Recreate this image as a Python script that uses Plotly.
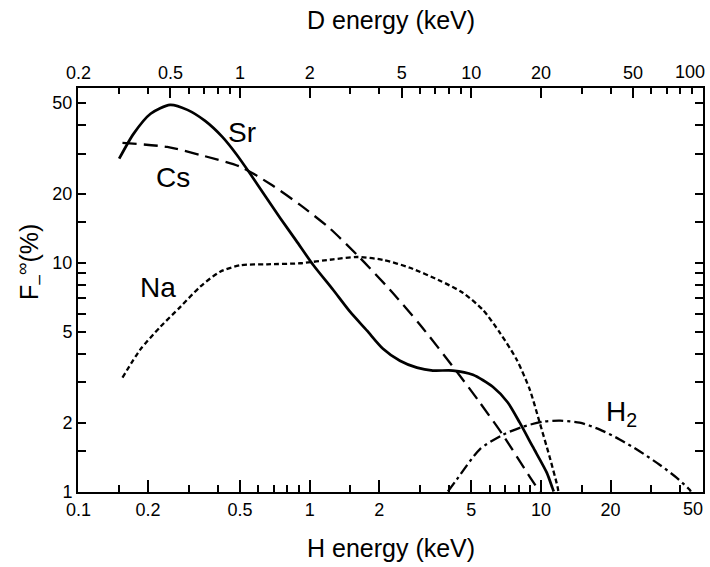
import plotly.graph_objects as go
import numpy as np

# H energy (keV) and F-infinity (%)
sr_x = [0.150, 0.173, 0.205, 0.249, 0.296, 0.353, 0.419, 0.481, 0.553, 0.642, 0.745, 0.874, 1.034,
        1.262, 1.494, 1.770, 2.075, 2.456, 2.909, 3.41, 4.16, 5.08, 6.19, 7.19, 8.10, 9.22, 10.6,
        11.2, 11.36]
sr_y = [28.5, 36.6, 44.8, 49.0, 46.6, 41.7, 35.5, 29.9, 24.5, 19.6, 15.7, 12.5, 9.8,
        7.62, 6.11, 5.05, 4.21, 3.73, 3.48, 3.38, 3.38, 3.24, 2.87, 2.45, 2.00, 1.57, 1.21,
        1.04, 1.0]

cs_x = [0.155, 0.242, 0.336, 0.501, 0.675, 0.909, 1.225, 1.651, 2.224, 3.00, 4.33, 5.44,
        6.84, 8.95, 9.88]
cs_y = [33.4, 32.1, 29.6, 26.3, 22.1, 17.9, 14.1, 10.5, 7.62, 5.36, 3.34, 2.45,
        1.77, 1.16, 1.0]

na_x = [0.155, 0.185, 0.226, 0.276, 0.336, 0.410, 0.501, 0.655, 0.909, 1.262, 1.602, 2.075,
        2.714, 3.66, 4.59, 5.61, 6.64, 7.86, 8.95, 9.88, 10.9, 11.8, 11.9]
na_y = [3.15, 4.17, 5.25, 6.42, 7.86, 9.14, 9.75, 9.85, 9.95, 10.35, 10.6, 10.3,
        9.51, 8.35, 7.40, 6.23, 4.95, 3.77, 2.79, 2.00, 1.42, 1.05, 1.0]

h2_x = [3.96, 4.33, 5.44, 6.84, 8.35, 10.2, 12.1, 14.7, 17.9, 21.9, 26.7, 32.6, 38.6, 43.9, 44.5]
h2_y = [1.0, 1.13, 1.53, 1.77, 1.92, 2.02, 2.04, 2.00, 1.87, 1.69, 1.50, 1.31, 1.15, 1.02, 1.0]

h_ticks = [0.1, 0.2, 0.5, 1, 2, 5, 10, 20, 50]
h_ticktext = ["0.1", "0.2", "0.5", "1", "2", "5", "10", "20", ""]
h_edge_label = ("50", 50)
h_minor = [0.15, 0.3, 0.4, 0.6, 0.7, 0.8, 0.9, 1.5, 3, 4, 6, 7, 8, 9, 15, 30, 40]
d_ticks = [0.2, 0.5, 1, 2, 5, 10, 20, 50, 100]
d_ticktext = ["0.2", "0.5", "1", "2", "5", "10", "20", "50", ""]
d_edge_label = ("100", 50)  # D = 100 keV sits above H = 50 keV
d_minor = [0.3, 0.4, 0.6, 0.7, 0.8, 0.9, 3, 4, 6, 7, 8, 9, 30, 40, 60, 70, 80, 90]
y_ticks = [1, 2, 5, 10, 20, 50]
y_ticktext = ["1", "2", "5", "10", "20", "50"]
y_minor = [1.5, 3, 4, 6, 7, 8, 9, 15, 30, 40]

labels = [("Sr", 0.511, 37.0), ("Cs", 0.257, 23.5), ("Na", 0.2215, 7.8), ("H<sub>2</sub>", 22.3, 2.2)]

FONT = "Liberation Sans"
fig = go.Figure()
fig.add_trace(go.Scatter(x=sr_x, y=sr_y, mode="lines", line=dict(color="black", width=2.7, shape="spline", smoothing=0.7)))
fig.add_trace(go.Scatter(x=cs_x, y=cs_y, mode="lines", line=dict(color="black", width=2.3, dash="14px,7px", shape="spline", smoothing=0.7)))
fig.add_trace(go.Scatter(x=na_x, y=na_y, mode="lines", line=dict(color="black", width=2.3, dash="5px,3px", shape="spline", smoothing=0.7)))
fig.add_trace(go.Scatter(x=h2_x, y=h2_y, mode="lines", line=dict(color="black", width=2.3, dash="11px,4px,3px,4px", shape="spline", smoothing=0.7)))
fig.add_trace(go.Scatter(x=[0.2, 100], y=[None, None], mode="lines", xaxis="x2", yaxis="y", showlegend=False, hoverinfo="skip"))

for t, lx, ly in labels:
    fig.add_annotation(x=np.log10(lx), y=np.log10(ly), text=t, showarrow=False,
                       xanchor="center", yanchor="middle",
                       font=dict(family=FONT, size=28, color="black"))

# edge tick labels, kept inside the picture like in the reference
fig.add_annotation(x=np.log10(h_edge_label[1]), xref="x", yref="paper", y=-0.042, text=h_edge_label[0],
                   showarrow=False, xanchor="right", yanchor="middle", xshift=2,
                   font=dict(family=FONT, size=18, color="black"))
fig.add_annotation(x=np.log10(d_edge_label[1]), xref="x", yref="paper", y=1.04, text=d_edge_label[0],
                   showarrow=False, xanchor="right", yanchor="middle", xshift=4,
                   font=dict(family=FONT, size=18, color="black"))

fig.add_annotation(xref="paper", yref="paper", x=0.5008, y=1.168, text="D energy (keV)", showarrow=False,
                   xanchor="center", yanchor="middle", font=dict(family=FONT, size=25, color="black"))
fig.add_annotation(xref="paper", yref="paper", x=0.5008, y=-0.1386, text="H energy (keV)", showarrow=False,
                   xanchor="center", yanchor="middle", font=dict(family=FONT, size=25, color="black"))
fig.add_annotation(xref="paper", yref="paper", x=-0.0768, y=0.569, text="F<sub>–</sub><sup>∞</sup>(%)", showarrow=False,
                   xanchor="center", yanchor="middle", textangle=-90,
                   font=dict(family=FONT, size=25, color="black"))

axis_common = dict(type="log", showgrid=False, zeroline=False, showline=True, linecolor="black", linewidth=2,
                   ticks="inside", tickcolor="black", tickwidth=1.5, ticklabeloverflow="allow", automargin=False,
                   tickfont=dict(family=FONT, size=18, color="black"))

eps = 0.002
fig.update_layout(
    width=710, height=567, margin=dict(l=78, r=7, t=88, b=75, autoexpand=False),
    paper_bgcolor="white", plot_bgcolor="white", showlegend=False,
    xaxis=dict(**axis_common, range=[-1 - eps, np.log10(50) + eps], tickvals=h_ticks, ticktext=h_ticktext, ticklen=12,
               mirror=True,
               minor=dict(tickvals=h_minor, ticks="inside", ticklen=7, tickcolor="black", tickwidth=1.5, showgrid=False)),
    xaxis2=dict(**axis_common, range=[np.log10(0.2) - eps, 2 + eps], overlaying="x", side="top", anchor="y",
                tickvals=d_ticks, ticktext=d_ticktext, ticklen=10,
                minor=dict(tickvals=d_minor, ticks="inside", ticklen=6, tickcolor="black", tickwidth=1.5, showgrid=False)),
    yaxis=dict(**axis_common, range=[0 - eps, 1.764], tickvals=y_ticks, ticktext=y_ticktext, ticklen=8, mirror="allticks",
               minor=dict(tickvals=y_minor, ticks="inside", ticklen=7, tickcolor="black", tickwidth=1.5, showgrid=False)),
)

fig.write_html("out.html")
